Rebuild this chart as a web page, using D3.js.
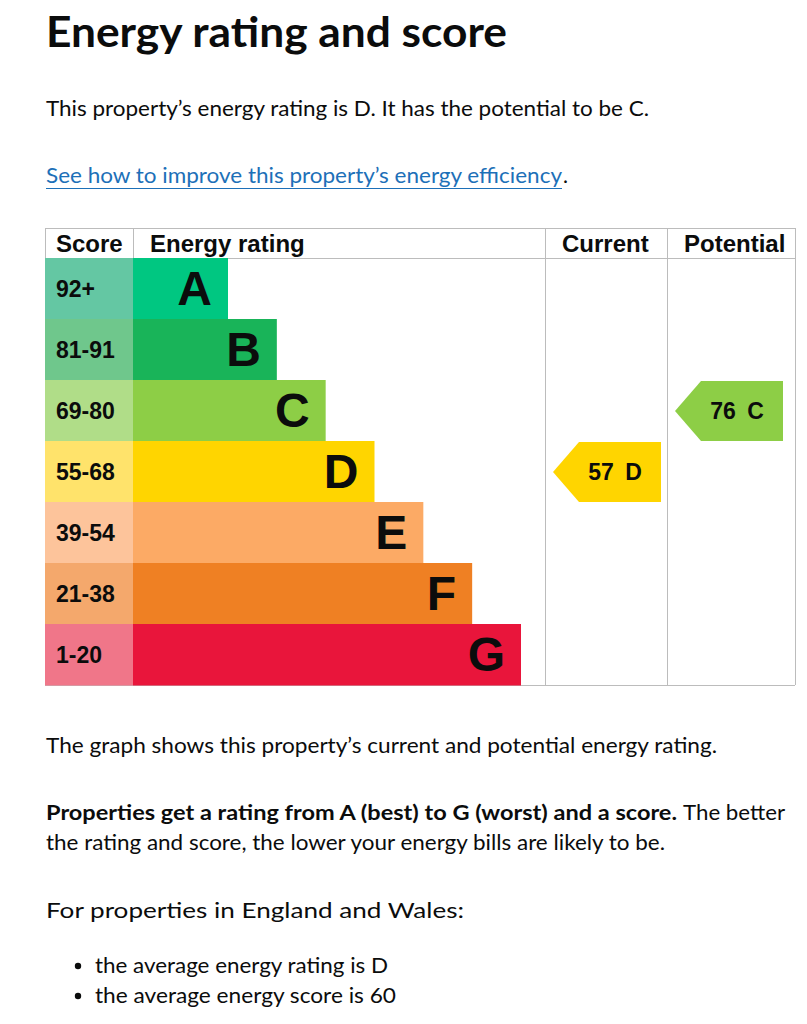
<!DOCTYPE html>
<html>
<head>
<meta charset="utf-8">
<script src="https://cdn.jsdelivr.net/npm/d3@7"></script>
<style>
  html, body { margin: 0; padding: 0; background: #fff; }
  svg { display: block; }
</style>
</head>
<body>
<svg id="chart"></svg>
<script>
// energy bands, best to worst
const bands = ['A', 'B', 'C', 'D', 'E', 'F', 'G'];
const scoreRanges = ['92+', '81-91', '69-80', '55-68', '39-54', '21-38', '1-20'];
const barColors = ['#00c781', '#19b459', '#8dce46', '#ffd500', '#fcaa65', '#ef8023', '#e9153b'];
const cellColors = ['#64c7a3', '#6fc78c', '#b0dd88', '#ffe36b', '#fdc49b', '#f4a86c', '#f07689'];
const columns = ['Score', 'Energy rating', 'Current', 'Potential'];
const ratings = [
  { column: 'Current', score: 57, band: 'D' },
  { column: 'Potential', score: 76, band: 'C' }
];

const W = 807, H = 1024;
const textFont = 'Lato, "Noto Sans", sans-serif';
const chartFont = '"Liberation Sans", Arial, sans-serif';
const ink = '#0b0c0c';
const grey = '#bcbcbc';

const svg = d3.select('#chart').attr('width', W).attr('height', H);

// plain text line, squeezed to the width it takes on the page
function line(x, y, str, width, opts) {
  opts = opts || {};
  return svg.append('text')
    .attr('x', x)
    .attr('y', y)
    .attr('textLength', width)
    .attr('lengthAdjust', 'spacingAndGlyphs')
    .attr('fill', opts.color || ink)
    .style('font-family', textFont)
    .style('font-size', (opts.size || 21) + 'px')
    .style('font-weight', opts.bold ? 700 : 400)
    .text(str);
}

// heading and intro
line(46, 47, 'Energy rating and score', 461, { size: 42, bold: true });
line(46, 116, 'This property\u2019s energy rating is D. It has the potential to be C.', 603);
line(46, 183, 'See how to improve this property\u2019s energy efficiency', 516, { color: '#1d70b8' });
svg.append('line')
  .attr('x1', 46).attr('x2', 562)
  .attr('y1', 188.5).attr('y2', 188.5)
  .attr('stroke', '#1d70b8').attr('stroke-width', 1.2);
line(563, 183, '.', 5);

// ---- the rating graph ----
const gTop = 228, headH = 30, gBottom = 685;
const gLeft = 45, gRight = 795;

const colX = d3.scaleOrdinal()
  .domain(columns)
  .range([45, 133, 545, 667]);
const colEnd = { 'Score': 133, 'Energy rating': 545, 'Current': 667, 'Potential': 795 };

const y = d3.scaleBand()
  .domain(bands)
  .range([gTop + headH, gBottom])
  .padding(0);

// bar end by band position
const barEnd = d3.scaleLinear()
  .domain([0, bands.length - 1])
  .range([228, 521]);

const g = svg.append('g');

// grid lines
g.append('line').attr('x1', gLeft).attr('x2', gRight).attr('y1', gTop + 0.5).attr('y2', gTop + 0.5);
g.append('line').attr('x1', gLeft).attr('x2', gRight).attr('y1', gTop + headH + 0.5).attr('y2', gTop + headH + 0.5);
g.append('line').attr('x1', gLeft).attr('x2', gRight).attr('y1', gBottom + 0.5).attr('y2', gBottom + 0.5);
g.append('line').attr('x1', gLeft + 0.5).attr('x2', gLeft + 0.5).attr('y1', gTop).attr('y2', gTop + headH);
g.append('line').attr('x1', 133.5).attr('x2', 133.5).attr('y1', gTop).attr('y2', gTop + headH);
['Current', 'Potential'].forEach(function (c) {
  g.append('line').attr('x1', colX(c) + 0.5).attr('x2', colX(c) + 0.5).attr('y1', gTop).attr('y2', gBottom);
});
g.append('line').attr('x1', gRight + 0.5).attr('x2', gRight + 0.5).attr('y1', gTop).attr('y2', gBottom);
g.selectAll('line').attr('stroke', grey).attr('stroke-width', 1);

// header labels
g.selectAll('.head')
  .data(columns)
  .enter().append('text')
    .attr('class', 'head')
    .attr('x', function (d) { return d === 'Score' ? 56 : colX(d) + 17; })
    .attr('y', gTop + 24)
    .attr('fill', ink)
    .style('font-family', chartFont)
    .style('font-size', '24px')
    .style('font-weight', 700)
    .text(function (d) { return d; });

// score cells
const rows = g.selectAll('.row')
  .data(bands)
  .enter().append('g')
    .attr('class', 'row');

rows.append('rect')
  .attr('x', colX('Score'))
  .attr('y', function (d) { return y(d); })
  .attr('width', colEnd['Score'] - colX('Score'))
  .attr('height', y.bandwidth() + 0.5)
  .attr('fill', function (d, i) { return cellColors[i]; });

rows.append('text')
  .attr('x', 56)
  .attr('y', function (d) { return y(d) + y.bandwidth() / 2; })
  .attr('dy', '0.35em')
  .attr('fill', ink)
  .style('font-family', chartFont)
  .style('font-size', '23px')
  .style('font-weight', 700)
  .text(function (d, i) { return scoreRanges[i]; });

// band bars
rows.append('rect')
  .attr('x', colX('Energy rating'))
  .attr('y', function (d) { return y(d); })
  .attr('width', function (d, i) { return barEnd(i) - colX('Energy rating'); })
  .attr('height', y.bandwidth() + 0.5)
  .attr('fill', function (d, i) { return barColors[i]; });

rows.append('text')
  .attr('x', function (d, i) { return barEnd(i) - 16; })
  .attr('y', function (d) { return y(d) + y.bandwidth() / 2; })
  .attr('dy', '0.35em')
  .attr('text-anchor', 'end')
  .attr('fill', ink)
  .style('font-family', chartFont)
  .style('font-size', '48px')
  .style('font-weight', 700)
  .text(function (d) { return d; });

// current / potential arrows
const arrows = g.selectAll('.arrow')
  .data(ratings)
  .enter().append('g')
    .attr('class', 'arrow');

arrows.append('path')
  .attr('d', function (d) {
    const x0 = colX(d.column) + 8, x1 = x0 + 108, notch = x0 + 26;
    const y0 = y(d.band) + 1, y1 = y(d.band) + y.bandwidth();
    const ym = (y0 + y1) / 2;
    return 'M' + x0 + ',' + ym + 'L' + notch + ',' + y0 + 'L' + x1 + ',' + y0 +
      'L' + x1 + ',' + y1 + 'L' + notch + ',' + y1 + 'Z';
  })
  .attr('fill', function (d) { return barColors[bands.indexOf(d.band)]; });

arrows.append('text')
  .attr('x', function (d) { return colX(d.column) + 8 + 108 - 46; })
  .attr('y', function (d) { return y(d.band) + y.bandwidth() / 2; })
  .attr('dy', '0.36em')
  .attr('text-anchor', 'middle')
  .attr('fill', ink)
  .style('font-family', chartFont)
  .style('font-size', '23px')
  .style('font-weight', 700)
  .style('white-space', 'pre')
  .text(function (d) { return d.score + '\u2002' + d.band; });

// ---- text after the graph ----
line(46, 753, 'The graph shows this property\u2019s current and potential energy rating.', 671);
line(46, 820, 'Properties get a rating from A (best) to G (worst) and a score.', 631, { bold: true });
line(683, 820, 'The better', 102);
line(46, 850, 'the rating and score, the lower your energy bills are likely to be.', 619);
line(46, 918, 'For properties in England and Wales:', 418);

const bullets = ['the average energy rating is D', 'the average energy score is 60'];
const bulletW = [293, 301];
bullets.forEach(function (b, i) {
  const by = 973 + i * 30;
  svg.append('circle').attr('cx', 78).attr('cy', by - 7).attr('r', 3.2).attr('fill', ink);
  line(95, by, b, bulletW[i]);
});
</script>
</body>
</html>
